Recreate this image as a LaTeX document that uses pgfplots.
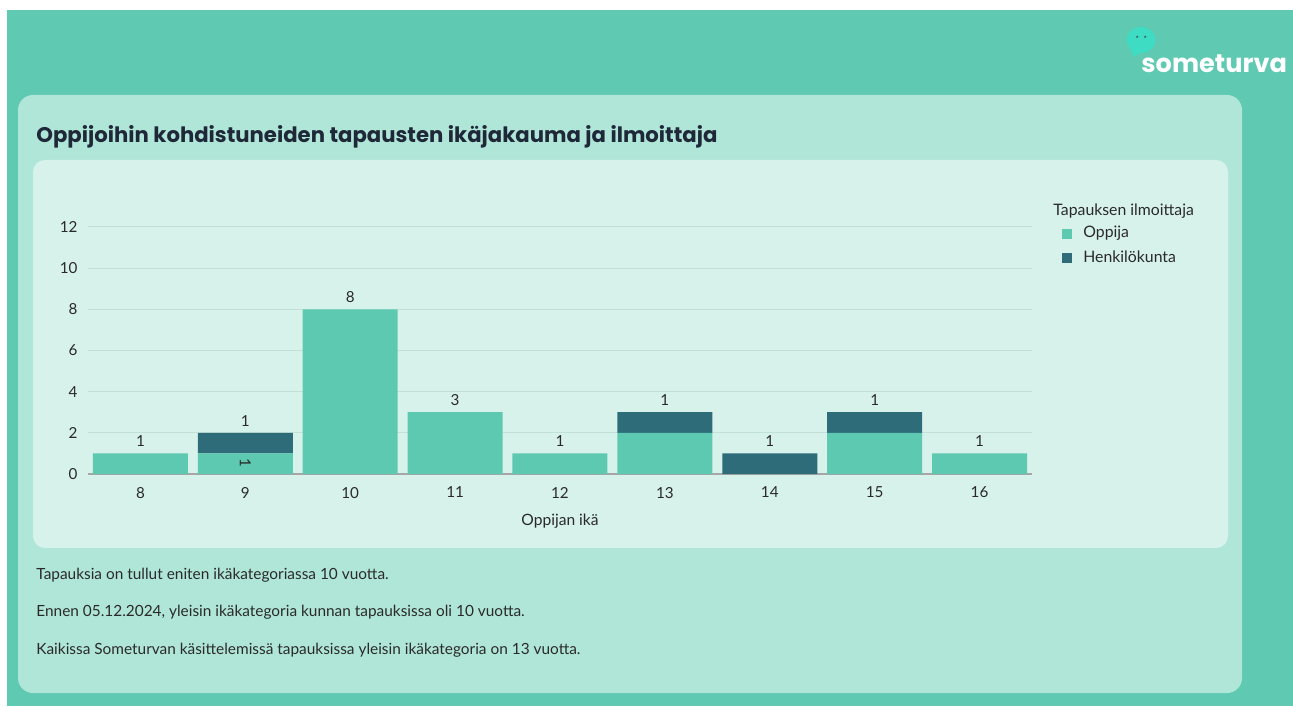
\documentclass[border=0pt]{standalone}
\usepackage{fontspec}
\usepackage{pgfplots}
\pgfplotsset{compat=1.18}
\setmainfont{Lato}
\newfontfamily\pop{Poppins}
\definecolor{outerg}{HTML}{5FC9B2}
\definecolor{cardg}{HTML}{B0E6D8}
\definecolor{panelg}{HTML}{D7F2EA}
\definecolor{oppc}{HTML}{5DC9B0}
\definecolor{henc}{HTML}{2E6C7A}
\definecolor{gridc}{HTML}{C3E0D8}
\definecolor{txt}{HTML}{2A2A2A}
\definecolor{titc}{HTML}{1E2838}
\definecolor{bubble}{HTML}{3EDCC3}
\tikzset{lbl/.style={text=txt, font=\fontsize{7.6}{8}\selectfont, inner sep=0pt}}
\begin{document}
\begin{tikzpicture}[x=1pt,y=1pt]
\fill[white] (0,0) rectangle (646.5,353);
\fill[outerg] (3.5,0) rectangle (646.5,348);
\fill[cardg, rounded corners=7.5pt] (9,6.5) rectangle (621,305.5);
\fill[panelg, rounded corners=6pt] (16.5,79) rectangle (614,273);
% logo
\fill[bubble] (570.5,333) ellipse [x radius=7.2pt, y radius=6.5pt];
\fill[bubble] (564.5,330) -- (567,324.5) -- (571,327.5) -- cycle;
\fill[henc] (568.6,334.6) circle (0.6pt);
\fill[henc] (572.6,334.6) circle (0.6pt);
\node[anchor=base west, inner sep=0pt, text=white, font=\pop\bfseries\fontsize{12.8}{15}\selectfont] at (570.5,316.5) {someturva};
% title
\node[anchor=base west, inner sep=0pt, text=titc, font=\pop\bfseries\fontsize{10.6}{13}\selectfont] at (18,281.5) {Oppijoihin kohdistuneiden tapausten ikäjakauma ja ilmoittaja};
% bottom text
\node[anchor=west, inner sep=0pt, text=txt, font=\fontsize{7.7}{9}\selectfont] at (18,65.5) {Tapauksia on tullut eniten ikäkategoriassa 10 vuotta.};
\node[anchor=west, inner sep=0pt, text=txt, font=\fontsize{7.7}{9}\selectfont] at (18,47) {Ennen 05.12.2024, yleisin ikäkategoria kunnan tapauksissa oli 10 vuotta.};
\node[anchor=west, inner sep=0pt, text=txt, font=\fontsize{7.7}{9}\selectfont] at (18,28) {Kaikissa Someturvan käsittelemissä tapauksissa yleisin ikäkategoria on 13 vuotta.};
% legend title
\node[anchor=west, text=txt, font=\fontsize{7.9}{9}\selectfont, inner sep=0pt] at (526.5,247.5) {Tapauksen ilmoittaja};
\begin{axis}[
  at={(44pt,116pt)}, anchor=south west,
  scale only axis, width=472pt, height=123.5pt,
  ybar stacked, bar width=47.5pt,
  xmin=7.5, xmax=16.5, ymin=0, ymax=12,
  xtick={8,...,16}, ytick={0,2,...,12},
  axis x line*=bottom, axis y line*=left,
  y axis line style={draw=none},
  x axis line style={draw=gray!70, line width=0.6pt},
  major tick length=0pt,
  ymajorgrids, grid style={gridc, line width=0.5pt},
  /pgf/number format/assume math mode=true,
  tick label style={font=\fontsize{7.6}{8}\selectfont, text=txt},
  xticklabel style={yshift=-3pt},
  yticklabel style={xshift=-1.7pt},
  xlabel={Oppijan ikä},
  xlabel style={font=\fontsize{7.8}{9}\selectfont, text=txt, yshift=-1pt},
  legend style={at={(1.0318,1.012)}, anchor=north west, draw=none, fill=none, inner sep=0pt,
    font=\fontsize{7.9}{9}\selectfont, text=txt, row sep=3pt,
    nodes={inner sep=1pt}},
  legend cell align=left,
  legend image code/.code={\fill[#1] (0pt,-2.5pt) rectangle (5pt,2.5pt);},
  /tikz/every odd column/.append style={column sep=4.5pt},
  clip=false,
]
\addplot[fill=oppc, draw=none] coordinates {(8,1) (9,1) (10,8) (11,3) (12,1) (13,2) (14,0) (15,2) (16,1)};
\addlegendentry{Oppija}
\addplot[fill=henc, draw=none] coordinates {(8,0) (9,1) (10,0) (11,0) (12,0) (13,1) (14,1) (15,1) (16,0)};
\addlegendentry{Henkilökunta}
\node[lbl] at (axis cs:8,1.58) {1};
\node[lbl] at (axis cs:9,2.58) {1};
\node[lbl] at (axis cs:10,8.58) {8};
\node[lbl] at (axis cs:11,3.58) {3};
\node[lbl] at (axis cs:12,1.58) {1};
\node[lbl] at (axis cs:13,3.58) {1};
\node[lbl] at (axis cs:13,1.5) {2};
\node[lbl] at (axis cs:14,1.58) {1};
\node[lbl] at (axis cs:15,3.58) {1};
\node[lbl] at (axis cs:15,1.5) {2};
\node[lbl] at (axis cs:16,1.58) {1};
\end{axis}
\node[lbl, rotate=-90] at (122.7,121.7) {1};
\end{tikzpicture}
\end{document}
